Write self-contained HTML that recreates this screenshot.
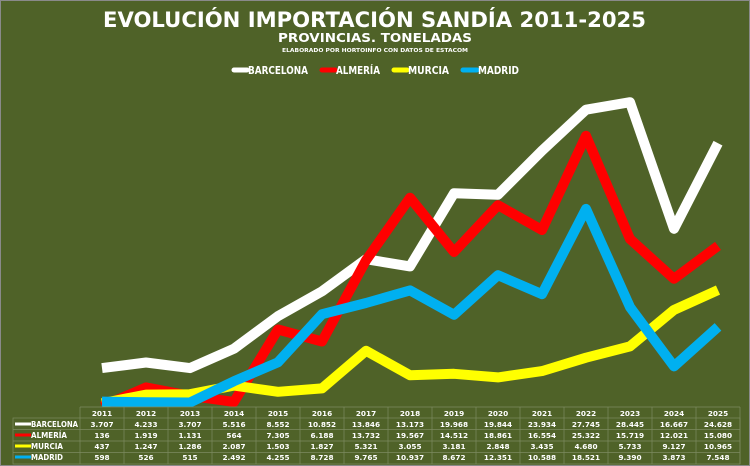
<!DOCTYPE html>
<html><head><meta charset="utf-8"><style>
body{margin:0;width:750px;height:466px;overflow:hidden;background:#4f6228}
svg{display:block;font-family:"DejaVu Sans","Liberation Sans",sans-serif}
</style></head><body>
<svg width="750" height="466" viewBox="0 0 750 466">
<rect x="0.5" y="0.5" width="749" height="465" fill="#4f6228" stroke="#8a8a8a"/>
<text x="103" y="27" fill="#fff" font-size="21" font-weight="bold" textLength="543" lengthAdjust="spacingAndGlyphs">EVOLUCIÓN IMPORTACIÓN SANDÍA 2011-2025</text>
<text x="278" y="42" fill="#fff" font-size="12" font-weight="bold" textLength="194" lengthAdjust="spacingAndGlyphs">PROVINCIAS. TONELADAS</text>
<text x="282" y="52" fill="#fff" font-size="5.5" font-weight="bold" textLength="186" lengthAdjust="spacingAndGlyphs">ELABORADO POR HORTOINFO CON DATOS DE ESTACOM</text>
<g font-size="10.5" font-weight="bold" fill="#fff">
<line x1="234" y1="70" x2="247" y2="70" stroke="#fff" stroke-width="5" stroke-linecap="round"/><text x="248" y="74" textLength="60" lengthAdjust="spacingAndGlyphs">BARCELONA</text>
<line x1="322" y1="70" x2="335" y2="70" stroke="#f00" stroke-width="5" stroke-linecap="round"/><text x="336" y="74" textLength="44" lengthAdjust="spacingAndGlyphs">ALMERÍA</text>
<line x1="394" y1="70" x2="407" y2="70" stroke="#ff0" stroke-width="5" stroke-linecap="round"/><text x="408" y="74" textLength="41" lengthAdjust="spacingAndGlyphs">MURCIA</text>
<line x1="463" y1="70" x2="477" y2="70" stroke="#00b0f0" stroke-width="5" stroke-linecap="round"/><text x="478" y="74" textLength="41" lengthAdjust="spacingAndGlyphs">MADRID</text>
</g>
<g fill="none" stroke-width="10" stroke-linejoin="round">
<polyline stroke="#fff" points="102,368.1 146,362.5 190,368.1 234,348.7 278,316.1 322,291.3 366,259.2 410,266.4 454,193.3 498,194.7 542,150.7 586,109.7 630,102.2 674,228.8 718,143.2"/>
<polyline stroke="#f00" points="102,406.5 146,387.4 190,395.8 234,401.9 278,329.5 322,341.5 366,260.4 410,197.7 454,252 498,205.2 542,230 586,135.8 630,239 674,278.8 718,245.9"/>
<polyline stroke="#ff0" points="102,403.3 146,394.6 190,394.2 234,385.6 278,391.8 322,388.4 366,350.8 410,375.2 454,373.8 498,377.4 542,371.1 586,357.7 630,346.4 674,309.9 718,290.1"/>
<polyline stroke="#00b0f0" points="102,401.6 146,402.3 190,402.5 234,381.2 278,362.3 322,314.2 366,303 410,290.4 454,314.8 498,275.2 542,294.2 586,208.9 630,307.1 674,366.4 718,326.9"/>
</g>
<rect x="80" y="407" width="660" height="57" fill="#4f6228"/>
<g stroke="#7d8b60" stroke-width="0.7" fill="none">
<rect x="13" y="418" width="727" height="46"/>
<line x1="80" y1="407" x2="740" y2="407"/><line x1="80" y1="407" x2="80" y2="464"/>
<line x1="13" y1="429.5" x2="740" y2="429.5"/><line x1="13" y1="441" x2="740" y2="441"/><line x1="13" y1="452.5" x2="740" y2="452.5"/>
<line x1="124" y1="407" x2="124" y2="464"/><line x1="168" y1="407" x2="168" y2="464"/><line x1="212" y1="407" x2="212" y2="464"/><line x1="256" y1="407" x2="256" y2="464"/><line x1="300" y1="407" x2="300" y2="464"/><line x1="344" y1="407" x2="344" y2="464"/><line x1="388" y1="407" x2="388" y2="464"/><line x1="432" y1="407" x2="432" y2="464"/><line x1="476" y1="407" x2="476" y2="464"/><line x1="520" y1="407" x2="520" y2="464"/><line x1="564" y1="407" x2="564" y2="464"/><line x1="608" y1="407" x2="608" y2="464"/><line x1="652" y1="407" x2="652" y2="464"/><line x1="696" y1="407" x2="696" y2="464"/><line x1="740" y1="407" x2="740" y2="464"/>
</g>
<g stroke-width="3">
<line x1="15" y1="424" x2="31" y2="424" stroke="#fff"/><line x1="15" y1="435" x2="31" y2="435" stroke="#f00"/><line x1="15" y1="446" x2="31" y2="446" stroke="#ff0"/><line x1="15" y1="457" x2="31" y2="457" stroke="#00b0f0"/>
</g>
<g font-size="7.5" font-weight="bold" fill="#fff">
<text x="31" y="427" textLength="47" lengthAdjust="spacingAndGlyphs">BARCELONA</text><text x="31" y="438" textLength="36" lengthAdjust="spacingAndGlyphs">ALMERÍA</text><text x="31" y="449" textLength="32" lengthAdjust="spacingAndGlyphs">MURCIA</text><text x="31" y="460" textLength="32" lengthAdjust="spacingAndGlyphs">MADRID</text>
</g>
<g font-size="7.3" font-weight="bold" fill="#fff" text-anchor="middle">
<text y="416"><tspan x="102">2011</tspan><tspan x="146">2012</tspan><tspan x="190">2013</tspan><tspan x="234">2014</tspan><tspan x="278">2015</tspan><tspan x="322">2016</tspan><tspan x="366">2017</tspan><tspan x="410">2018</tspan><tspan x="454">2019</tspan><tspan x="498">2020</tspan><tspan x="542">2021</tspan><tspan x="586">2022</tspan><tspan x="630">2023</tspan><tspan x="674">2024</tspan><tspan x="718">2025</tspan></text>
<text y="427"><tspan x="102">3.707</tspan><tspan x="146">4.233</tspan><tspan x="190">3.707</tspan><tspan x="234">5.516</tspan><tspan x="278">8.552</tspan><tspan x="322">10.852</tspan><tspan x="366">13.846</tspan><tspan x="410">13.173</tspan><tspan x="454">19.968</tspan><tspan x="498">19.844</tspan><tspan x="542">23.934</tspan><tspan x="586">27.745</tspan><tspan x="630">28.445</tspan><tspan x="674">16.667</tspan><tspan x="718">24.628</tspan></text>
<text y="438"><tspan x="102">136</tspan><tspan x="146">1.919</tspan><tspan x="190">1.131</tspan><tspan x="234">564</tspan><tspan x="278">7.305</tspan><tspan x="322">6.188</tspan><tspan x="366">13.732</tspan><tspan x="410">19.567</tspan><tspan x="454">14.512</tspan><tspan x="498">18.861</tspan><tspan x="542">16.554</tspan><tspan x="586">25.322</tspan><tspan x="630">15.719</tspan><tspan x="674">12.021</tspan><tspan x="718">15.080</tspan></text>
<text y="449"><tspan x="102">437</tspan><tspan x="146">1.247</tspan><tspan x="190">1.286</tspan><tspan x="234">2.087</tspan><tspan x="278">1.503</tspan><tspan x="322">1.827</tspan><tspan x="366">5.321</tspan><tspan x="410">3.055</tspan><tspan x="454">3.181</tspan><tspan x="498">2.848</tspan><tspan x="542">3.435</tspan><tspan x="586">4.680</tspan><tspan x="630">5.733</tspan><tspan x="674">9.127</tspan><tspan x="718">10.965</tspan></text>
<text y="460"><tspan x="102">598</tspan><tspan x="146">526</tspan><tspan x="190">515</tspan><tspan x="234">2.492</tspan><tspan x="278">4.255</tspan><tspan x="322">8.728</tspan><tspan x="366">9.765</tspan><tspan x="410">10.937</tspan><tspan x="454">8.672</tspan><tspan x="498">12.351</tspan><tspan x="542">10.588</tspan><tspan x="586">18.521</tspan><tspan x="630">9.390</tspan><tspan x="674">3.873</tspan><tspan x="718">7.548</tspan></text>
</g>
</svg>
</body></html>
